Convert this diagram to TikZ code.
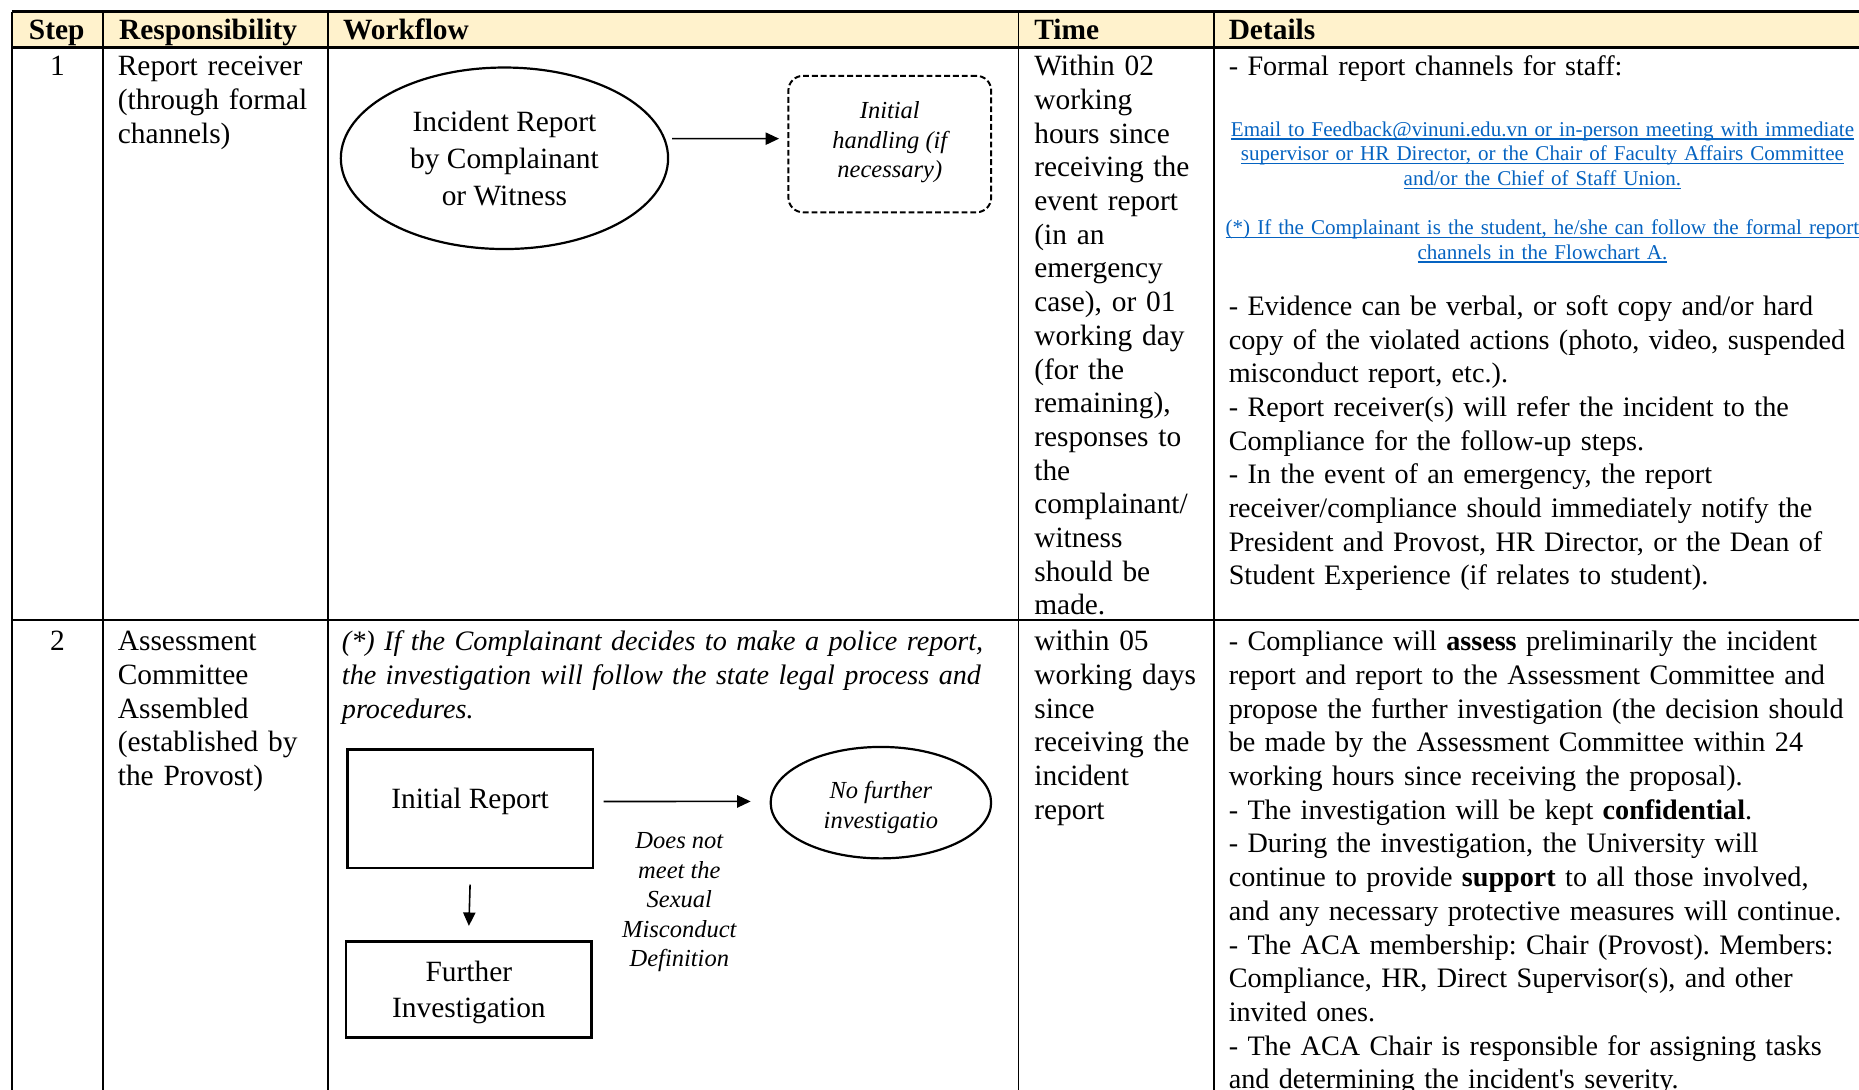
\documentclass[tikz,border=0pt]{standalone}
\usepackage{fontspec}
\setmainfont{Liberation Serif}
\newfontfamily\noligfont[Ligatures=TeXOff]{Liberation Serif}
\usetikzlibrary{shapes.geometric,arrows.meta}
\definecolor{hdrfill}{HTML}{FFF2CC}
\definecolor{lnkblue}{HTML}{0563C1}
\newcommand\lnkul[1]{\leavevmode\setbox0\hbox{#1}\rlap{\rule[-1.3pt]{\wd0}{0.5pt}}\box0}
\frenchspacing
\begin{document}
\begin{tikzpicture}[x=0.484pt,y=-0.484pt,
  gridline/.style={line width=0.75pt},
  hdrline/.style={line width=1.3pt},
  cell/.style={anchor=base west, inner sep=0pt, align=left, text width=#1, font=\fontsize{12}{13.75}\selectfont},
  detcell/.style={anchor=base west, inner sep=0pt, align=left, text width=#1, font=\fontsize{11.5}{13.75}\selectfont},
  hdrtxt/.style={anchor=base west, inner sep=0pt, font=\bfseries\fontsize{12}{13.75}\selectfont},
  stepno/.style={anchor=base, inner sep=0pt, font=\fontsize{12}{13.75}\selectfont},
  lnk/.style={anchor=base, inner sep=0pt, align=center, text width=300pt, text=lnkblue, font=\fontsize{8.6}{10.05}\selectfont},
  ell/.style={draw, ellipse, inner sep=0pt, align=center, line width=0.9pt},
  dbox/.style={draw, rounded corners=6pt, dash pattern=on 2.4pt off 1.2pt, line width=0.8pt, inner sep=0pt},
  sbox/.style={draw, rectangle, line width=1pt, inner sep=0pt, align=center},
  smallit/.style={inner sep=0pt, align=center, font=\itshape\fontsize{10}{12.1}\selectfont},
  arr/.style={line width=0.65pt, -{Triangle[length=5.5pt,width=5pt]}},
]
\useasboundingbox (0,0) rectangle (1568,919);
% header fill
\fill[hdrfill] (10,10) rectangle (1570,40);
% grid
\draw[hdrline] (10,10) -- (1570,10);
\draw[hdrline] (10,40) -- (1570,40);
\draw[gridline] (10,523) -- (1570,523);
\foreach \xx in {10,87,277,859,1024} \draw[gridline] (\xx,10) -- (\xx,925);

% header texts
\node[hdrtxt] (hstep) at (24,33) {Step};
\node[hdrtxt] (hresp) at (100,33) {Responsibility};
\node[hdrtxt] (hwork) at (289,33) {Workflow};
\node[hdrtxt] (htime) at (872,33) {Time};
\node[hdrtxt] (hdet) at (1036,33) {Details};

% ---------- Row 1 ----------
\node[stepno] (s1) at (48.5,64) {1};
\node[cell=100pt] (r1resp) at (99,64) {Report receiver\\(through formal\\channels)};
\node[cell=100pt] (r1time) at (872,64) {Within 02\\working\\hours since\\receiving the\\event report\\(in an\\emergency\\case), or 01\\working day\\(for the\\remaining),\\responses to\\the\\complainant/\\witness\\should be\\made.};
\node[detcell=320pt] (r1det1) at (1036,64) {- Formal report channels for staff:};
\node[lnk] (r1lnk1) at (1301,115) {\lnkul{Email to Feedback@vinuni.edu.vn or in-person meeting with immediate}\\\lnkul{supervisor or HR Director, or the Chair of Faculty Affairs Committee}\\\lnkul{and/or the Chief of Staff Union.}};
\node[lnk] (r1lnk2) at (1301,198) {\lnkul{(*) If the Complainant is the student, he/she can follow the formal report}\\\lnkul{channels in the Flowchart A.}};
\node[detcell=320pt] (r1det2) at (1036,266) {- Evidence can be verbal, or soft copy and/or hard\\copy of the violated actions (photo, video, suspended\\misconduct report, etc.).\\- Report receiver(s) will refer the incident to the\\Compliance for the follow-up steps.\\- In the event of an emergency, the report\\receiver/compliance should immediately notify the\\President and Provost, HR Director, or the Dean of\\Student Experience (if relates to student).};

% workflow row 1
\node[ell, minimum width=133.6pt, minimum height=74.1pt, font=\fontsize{12}{15}\selectfont] (inc) at (425.5,133.5) {Incident Report\\by Complainant\\or Witness};
\node[dbox, minimum width=82.8pt, minimum height=55.7pt] (hand) at (750.5,121.5) {};
\node[smallit] (handtxt) at (750.5,120) {Initial\\handling (if\\necessary)};
\draw[arr] ([xshift=1.2pt,yshift=8pt]inc.east) -- ([xshift=-3.4pt,yshift=2.2pt]hand.west);

% ---------- Row 2 ----------
\node[stepno] (s2) at (48.5,549) {2};
\node[cell=100pt] (r2resp) at (99,549) {Assessment\\Committee\\Assembled\\(established by\\the Provost)};
\node[cell=100pt] (r2time) at (872,549) {within 05\\working days\\since\\receiving the\\incident\\report};
\node[detcell=320pt] (r2det) at (1036,549) {- Compliance will \textbf{assess} preliminarily the incident\\report and report to the Assessment Committee and\\propose the further investigation (the decision should\\be made by the Assessment Committee within 24\\working hours since receiving the proposal).\\- The investigation will be kept \textbf{confidential}.\\- During the investigation, the University will\\continue to provide \textbf{support} to all those involved,\\and any necessary protective measures will continue.\\- The ACA membership: Chair (Provost). Members:\\Compliance, HR, Direct Supervisor(s), and other\\invited ones.\\- The ACA Chair is responsible for assigning tasks\\and determining the incident{\noligfont'}s severity.};
\node[detcell=300pt, font=\itshape\fontsize{11.5}{13.75}\selectfont] (r2note) at (288,549) {(*) If the Complainant decides to make a police report,\\the investigation will follow the state legal process and\\procedures.};

% workflow row 2
\node[sbox, minimum width=100.2pt, minimum height=48.4pt, text height=6pt, text depth=6pt, font=\fontsize{12}{13.75}\selectfont] (ir) at (396.5,682) {Initial Report};
\node[ell, minimum width=90pt, minimum height=45.5pt] (nf) at (743,677) {};
\node[smallit] (nftxt) at (743,681) {No further\\investigatio};
\node[sbox, minimum width=100.2pt, minimum height=39.2pt] (fi) at (395.5,834.5) {};
\node[inner sep=0pt, align=center, font=\fontsize{12}{14.5}\selectfont] (fitxt) at (395.5,837) {Further\\Investigation};
\node[smallit] (dnm) at (573,761) {Does not\\meet the\\Sexual\\Misconduct\\Definition};
\draw[arr] ([xshift=3.9pt,yshift=2.9pt]ir.east) -- ([xshift=-7.7pt,yshift=0.5pt]nf.west);
\draw[arr] ([yshift=-6.3pt]ir.south) -- ([yshift=5.8pt]fi.north);
\end{tikzpicture}
\end{document}
